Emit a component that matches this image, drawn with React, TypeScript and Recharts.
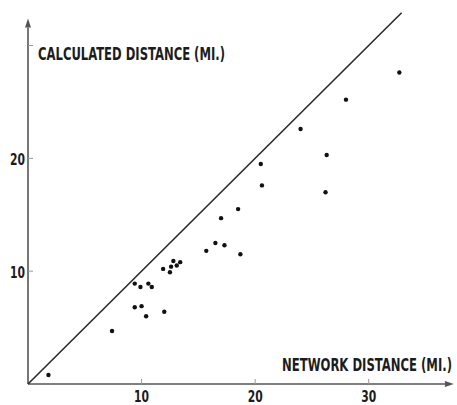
import React from "react";
import {
  ScatterChart,
  Scatter,
  XAxis,
  YAxis,
  ReferenceLine,
} from "recharts";

// network distance (mi.)
const networkDist = [
  1.8, 7.4, 9.4, 9.9, 10.6, 10.9, 9.4, 10.0, 10.4, 12.0,
  11.9, 12.5, 12.6, 12.8, 13.1, 13.4, 15.7, 16.5, 17.3, 17.0,
  18.5, 18.7, 20.6, 20.5, 24.0, 26.2, 26.3, 28.0, 32.7,
];

// calculated distance (mi.)
const calcDist = [
  0.8, 4.7, 8.9, 8.6, 8.9, 8.6, 6.8, 6.9, 6.0, 6.4,
  10.2, 9.9, 10.4, 10.9, 10.5, 10.8, 11.8, 12.5, 12.3, 14.7,
  15.5, 11.5, 17.6, 19.5, 22.6, 17.0, 20.3, 25.2, 27.6,
];

const xTicks = [10, 20, 30];
const yTicks = [10, 20, 30];
const yTickLabels = ["10", "20", ""];

const FONT = "'DejaVu Sans Condensed', 'Liberation Sans Narrow', sans-serif";
const INK = "#1c1c1c";
const AXIS = "#555";

const data = networkDist.map((x, i) => ({ x, y: calcDist[i] }));

const XTick = (props: any) => {
  const { x, y, payload } = props;
  return (
    <g>
      <line x1={x} y1={y} x2={x} y2={y - 5} stroke="#999" strokeWidth={1} />
      <text x={x - 7.5} y={y + 18} fontFamily={FONT} fontWeight="bold" fontSize={16} fill={INK} textLength={15} lengthAdjust="spacingAndGlyphs">
        {payload.value}
      </text>
    </g>
  );
};

const YTick = (props: any) => {
  const { x, y, index } = props;
  const label = yTickLabels[index];
  return (
    <g>
      <line x1={x + 3} y1={y} x2={x + 8} y2={y} stroke="#999" strokeWidth={1} />
      {label ? (
        <text x={x - 15} y={y + 7} fontFamily={FONT} fontWeight="bold" fontSize={16} fill={INK} textLength={15} lengthAdjust="spacingAndGlyphs">
          {label}
        </text>
      ) : null}
    </g>
  );
};

// axis line with an arrowhead at its far end
const ArrowLine = (props: any) => {
  const { x1, y1, x2, y2 } = props;
  const dx = x2 - x1;
  const dy = y2 - y1;
  const len = Math.hypot(dx, dy) || 1;
  const ux = dx / len;
  const uy = dy / len;
  const bx = x2 - ux * 9;
  const by = y2 - uy * 9;
  const px = -uy * 3;
  const py = ux * 3;
  return (
    <g>
      <line x1={x1} y1={y1} x2={bx} y2={by} stroke={AXIS} strokeWidth={1.6} />
      <path d={`M${x2},${y2} L${bx + px},${by + py} L${bx - px},${by - py} Z`} fill={AXIS} />
    </g>
  );
};

const Dot = (props: any) => <circle cx={props.cx} cy={props.cy} r={2.2} fill="#111" />;

export default function App() {
  return (
    <div style={{ position: "absolute", left: 0, top: 0, background: "#fff" }}>
      <ScatterChart width={457} height={405} margin={{ top: 6, right: 2, bottom: 0, left: 0 }}>
        <XAxis
          type="number"
          dataKey="x"
          domain={[0, 37.6]}
          ticks={xTicks}
          height={21}
          axisLine={false}
          tickLine={false}
          tickSize={0}
          tickMargin={0}
          tick={<XTick />}
        />
        <YAxis
          type="number"
          dataKey="y"
          domain={[0, 33.5]}
          ticks={yTicks}
          width={28}
          axisLine={false}
          tickLine={false}
          tickSize={0}
          tickMargin={3}
          tick={<YTick />}
        />
        <ReferenceLine segment={[{ x: 0, y: 0 }, { x: 0, y: 32.4 }]} shape={(p: any) => <ArrowLine {...p} />} />
        <ReferenceLine segment={[{ x: 0, y: 0 }, { x: 37.5, y: 0 }]} shape={(p: any) => <ArrowLine {...p} />} />
        <ReferenceLine segment={[{ x: 0, y: 0 }, { x: 32.9, y: 32.9 }]} stroke="#2a2a2a" strokeWidth={1.6} />
        <Scatter data={data} shape={<Dot />} isAnimationActive={false} />
        <text x={38} y={60} fontFamily={FONT} fontWeight="bold" fontSize={17} fill={INK} textLength={187} lengthAdjust="spacingAndGlyphs">
          CALCULATED DISTANCE (MI.)
        </text>
        <text x={282} y={371} fontFamily={FONT} fontWeight="bold" fontSize={17} fill={INK} textLength={170} lengthAdjust="spacingAndGlyphs">
          NETWORK DISTANCE (MI.)
        </text>
      </ScatterChart>
    </div>
  );
}
